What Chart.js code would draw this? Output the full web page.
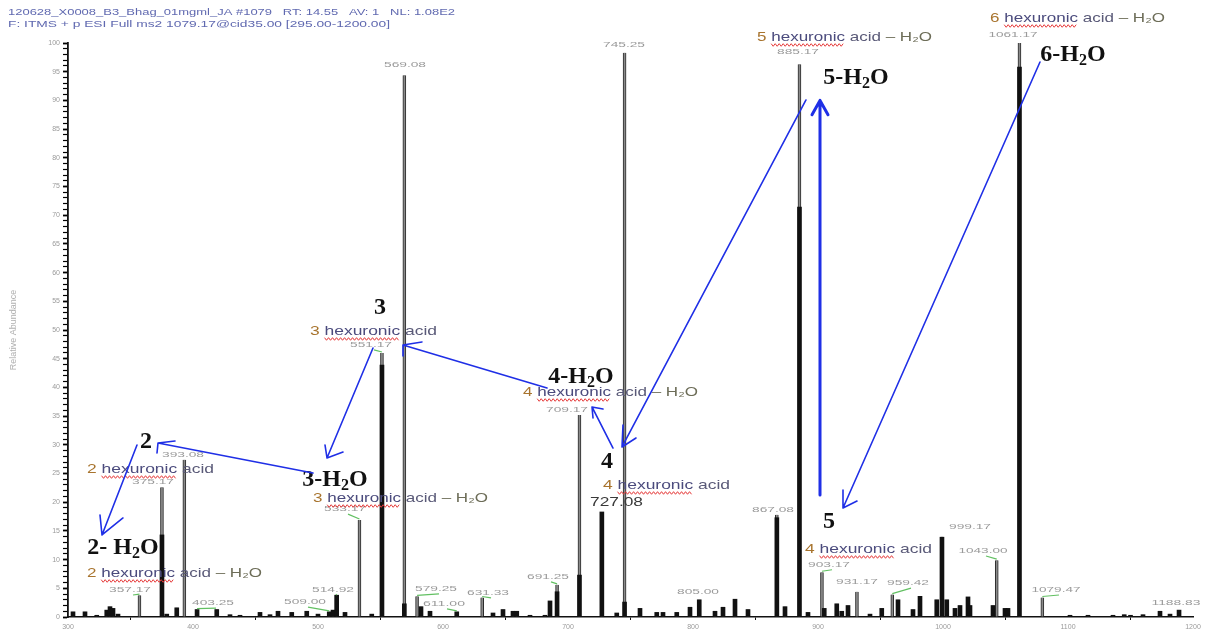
<!DOCTYPE html>
<html>
<head>
<meta charset="utf-8">
<title>MS2 1079.17</title>
<script src="https://cdn.jsdelivr.net/npm/chart.js@4.4.1/dist/chart.umd.min.js"></script>
<style>
  html, body { margin: 0; padding: 0; background: #fff; }
  #wrap { width: 1209px; height: 634px; }
</style>
</head>
<body>
<div id="wrap"><canvas id="spectrum" width="1209" height="634"></canvas></div>
<script>
// stick spectrum: m/z, relative abundance at the tip, and height of the dark centroid part
const mzValues = [
  304, 313.6, 323, 331, 333.6, 336, 340, 357.17, 375.17, 379, 387, 393.08, 403.25, 419,
  429.6, 437.6, 453.6, 461.6, 468, 479, 491, 500, 509.00, 512, 514.92, 521.6, 533.17, 543,
  551.17, 569.08, 579.25, 582.4, 589.6, 611.00, 631.33, 640, 648, 656, 659, 669.6, 681.6,
  685.6, 691.25, 709.17, 727.08, 739, 745.25, 757.6, 771, 776, 787, 797.6, 805.00, 817.6,
  824, 833.6, 844, 867.08, 873.6, 885.17, 892, 903.17, 905, 915, 919, 924, 931.17, 941.6,
  951, 959.42, 964, 976, 981.6, 995, 999.17, 1003, 1009.6, 1013.6, 1020, 1021.6, 1040,
  1043.00, 1049.6, 1052, 1061.17, 1079.47, 1101.6, 1116, 1136, 1145, 1150, 1160, 1173.6,
  1181.6, 1188.83
];
const abundance = [
  0.9, 0.9, 0.3, 1.2, 1.8, 1.5, 0.5, 3.8, 22.6, 0.5, 1.6, 27.4, 1.3, 1.3,
  0.4, 0.3, 0.8, 0.4, 1.0, 0.8, 1.0, 0.5, 0.9, 1.2, 3.8, 0.8, 16.9, 0.5,
  46.0, 94.4, 3.6, 1.8, 1.0, 0.9, 3.4, 0.7, 1.3, 1.0, 1.0, 0.3, 0.3,
  2.8, 5.6, 35.2, 18.3, 0.7, 98.3, 1.5, 0.8, 0.8, 0.8, 1.7, 3.0, 1.0,
  1.7, 3.1, 1.3, 17.8, 1.8, 96.3, 0.8, 7.8, 1.5, 2.3, 1.0, 2.0, 4.4, 0.5,
  1.5, 3.9, 3.0, 1.3, 3.6, 3.0, 14.0, 3.0, 1.5, 2.0, 3.5, 2.0, 2.0,
  9.9, 1.5, 1.5, 100, 3.4, 0.3, 0.3, 0.3, 0.4, 0.3, 0.4, 1.0,
  0.5, 1.2
];
const centroid = [
  0.9, 0.9, 0.3, 1.2, 1.8, 1.5, 0.5, 0, 14.3, 0.5, 1.6, 0, 1.3, 1.3,
  0.4, 0.3, 0.8, 0.4, 1.0, 0.8, 1.0, 0.5, 0.9, 1.2, 3.8, 0.8, 0, 0.5,
  43.9, 2.3, 0, 1.8, 1.0, 0.9, 0, 0.7, 1.3, 1.0, 1.0, 0.3, 0.3,
  2.8, 4.4, 7.3, 18.3, 0.7, 2.6, 1.5, 0.8, 0.8, 0.8, 1.7, 3.0, 1.0,
  1.7, 3.1, 1.3, 17.3, 1.8, 71.4, 0.8, 0, 1.5, 2.3, 1.0, 2.0, 0, 0.5,
  1.5, 0, 3.0, 1.3, 3.6, 3.0, 13.9, 3.0, 1.5, 2.0, 3.5, 2.0, 2.0,
  0, 1.5, 1.5, 95.8, 0, 0.3, 0.3, 0.3, 0.4, 0.3, 0.4, 1.0,
  0.5, 1.2
];

const xTicks = [300, 400, 500, 600, 700, 800, 900, 1000, 1100, 1200];
const yTicks = [0, 5, 10, 15, 20, 25, 30, 35, 40, 45, 50, 55, 60, 65, 70, 75, 80, 85, 90, 95, 100];

// peak labels: text, label centre m/z, label height %, leader line to the peak
const peakTags = [
  ['357.17', 349.6, 4.7, true], ['375.17', 368, 23.5, false], ['393.08', 392, 28.2, false],
  ['403.25', 416, 2.4, true], ['509.00', 489.6, 2.6, true], ['514.92', 512, 4.7, true],
  ['533.17', 521.6, 18.8, true], ['551.17', 542.4, 47.4, true], ['569.08', 569.6, 96.2, false],
  ['579.25', 594.4, 4.9, true], ['611.00', 600.8, 2.3, true], ['631.33', 636, 4.2, true],
  ['691.25', 684, 7.0, true], ['709.17', 699.2, 36.1, false], ['745.25', 744.8, 99.7, false],
  ['805.00', 804, 4.4, false], ['867.08', 864, 18.6, false], ['885.17', 884, 98.4, false],
  ['903.17', 908.8, 9.1, true], ['931.17', 931.2, 6.1, false], ['959.42', 972, 5.9, true],
  ['999.17', 1021.6, 15.7, false], ['1043.00', 1032, 11.5, true], ['1061.17', 1056, 101.4, false],
  ['1079.47', 1090.4, 4.7, true], ['1188.83', 1186.4, 2.4, false]
];
const bigTag = ['727.08', 738.4, 19.9];

// fragment names: residues, minus water, left edge m/z, centre %
const fragTags = [
  [2, false, 315.2, 25.78], [2, true, 315.2, 7.67], [3, false, 493.6, 49.83],
  [3, true, 496, 20.73], [4, true, 664, 39.2], [4, false, 728, 23.0],
  [4, false, 889.6, 11.85], [5, true, 851.2, 101.05], [6, true, 1037.6, 104.36]
];

// short ion names: prefix, followed by H2O, centre m/z, centre %
const ionTags = [
  ['2', false, 362.4, 30.49], ['2- ', true, 344, 12.02], ['3', false, 549.6, 53.83],
  ['3-', true, 513.6, 23.87], ['4-', true, 710.4, 41.81], ['4', false, 731.2, 27.0],
  ['5', false, 908.8, 16.55], ['5-', true, 930.4, 93.9], ['6-', true, 1104, 97.91]
];

// hand-drawn arrows: tail, tip, two barbs, each [m/z, %], then pen width
const arrows = [
  [[355.2, 29.97], [327.2, 14.29], [325.6, 17.77], [344, 17.25], 1.6],
  [[496, 25.09], [372, 30.31], [385.6, 30.66], [371.2, 28.57], 1.6],
  [[544, 46.86], [507.2, 27.70], [505.6, 29.97], [520, 28.75], 1.6],
  [[683.2, 39.90], [568, 47.39], [583.2, 47.91], [568, 45.47], 1.6],
  [[736, 29.44], [719.2, 36.59], [728, 36.24], [720, 34.67], 1.6],
  [[890.4, 90.07], [743.2, 29.62], [754.4, 31.18], [744, 33.45], 1.6],
  [[901.6, 21.25], [901.6, 90.0], [895.2, 87.5], [908, 87.5], 3],
  [[1077.6, 96.69], [920, 18.99], [920, 22.13], [931.2, 20.21], 1.6]
];

const headerLines = [
  '120628_X0008_B3_Bhag_01mgml_JA #1079   RT: 14.55   AV: 1   NL: 1.08E2',
  'F: ITMS + p ESI Full ms2 1079.17@cid35.00 [295.00-1200.00]'
];

const sticks = mzValues.map((m, i) => ({ x: m, y: abundance[i] }));
const cores = mzValues.map((m, i) => ({ x: m, y: centroid[i] })).filter(p => p.y > 0);

function fitText(ctx, parts, x, y, width, font) {
  ctx.font = font;
  const widths = parts.map(p => ctx.measureText(p[0]).width);
  const total = widths.reduce((a, b) => a + b, 0);
  const k = width / total;
  ctx.save();
  ctx.translate(x, y);
  ctx.scale(k, 1);
  ctx.textBaseline = 'middle';
  ctx.textAlign = 'left';
  let off = 0;
  parts.forEach((p, i) => {
    ctx.fillStyle = p[1];
    ctx.fillText(p[0], off, 0);
    off += widths[i];
  });
  ctx.restore();
  return { k, widths };
}

function squiggle(ctx, x0, x1, y) {
  ctx.beginPath();
  let i = 0;
  for (let x = x0; x <= x1; x += 2, i++) {
    const yy = y + (i % 2 ? 1.3 : -1.3);
    if (i === 0) ctx.moveTo(x, yy); else ctx.lineTo(x, yy);
  }
  ctx.strokeStyle = '#e53a3a';
  ctx.lineWidth = 1;
  ctx.stroke();
}

const notes = {
  id: 'notes',
  afterDraw(chart) {
    const ctx = chart.ctx;
    const X = v => chart.scales.x.getPixelForValue(v);
    const Y = v => chart.scales.y.getPixelForValue(v);
    ctx.save();

    // peak m/z labels with green leaders
    peakTags.forEach(([text, lm, lp, lead]) => {
      const idx = mzValues.indexOf(parseFloat(text));
      const lx = X(lm), ly = Y(lp);
      fitText(ctx, [[text, '#9a9a9a']], lx - text.length * 3.5, ly, text.length * 7, '8px "Liberation Sans"');
      if (lead && idx >= 0) {
        ctx.beginPath();
        ctx.moveTo(X(mzValues[idx]), Y(abundance[idx]) - 1);
        ctx.lineTo(lx + 3, ly + 5);
        ctx.strokeStyle = '#62c062';
        ctx.lineWidth = 1.2;
        ctx.stroke();
      }
    });
    fitText(ctx, [[bigTag[0], '#3a3a3a']], X(bigTag[1]) - 26, Y(bigTag[2]), 53, '13px "Liberation Sans"');

    // fragment names with the spell-check underline
    fragTags.forEach(([n, water, lm, lp]) => {
      const parts = [[String(n), '#a8742e'], [' hexuronic', '#4b4b7d'], [' acid', '#5a5a78']];
      if (water) parts.push([' \u2013 H\u2082O', '#6d6d58']);
      const x = X(lm), y = Y(lp);
      const r = fitText(ctx, parts, x, y, water ? 175 : 127, '13px "Liberation Sans"');
      ctx.font = '13px "Liberation Sans"';
      const sp = ctx.measureText(' ').width;
      squiggle(ctx, x + (r.widths[0] + sp) * r.k, x + (r.widths[0] + r.widths[1]) * r.k, y + 8);
    });

    // ion names
    ionTags.forEach(([pre, water, cm, cp]) => {
      const big = 'bold 24px "Liberation Serif"', sub = 'bold 16px "Liberation Serif"';
      ctx.font = big;
      const wPre = ctx.measureText(pre).width;
      const wH = water ? ctx.measureText('H').width : 0;
      const wO = water ? ctx.measureText('O').width : 0;
      ctx.font = sub;
      const w2 = water ? ctx.measureText('2').width : 0;
      let x = X(cm) - (wPre + wH + w2 + wO) / 2;
      const y = Y(cp);
      ctx.fillStyle = '#111';
      ctx.textBaseline = 'middle';
      ctx.textAlign = 'left';
      ctx.font = big;
      ctx.fillText(pre, x, y);
      if (water) {
        x += wPre;
        ctx.fillText('H', x, y);
        x += wH;
        ctx.font = sub;
        ctx.fillText('2', x, y + 6);
        x += w2;
        ctx.font = big;
        ctx.fillText('O', x, y);
      }
    });

    // blue arrows
    ctx.strokeStyle = '#1f2fe6';
    ctx.lineCap = 'round';
    ctx.lineJoin = 'round';
    arrows.forEach(([tail, tip, b1, b2, w]) => {
      ctx.lineWidth = w;
      ctx.beginPath();
      ctx.moveTo(X(tail[0]), Y(tail[1]));
      ctx.lineTo(X(tip[0]), Y(tip[1]));
      ctx.moveTo(X(b1[0]), Y(b1[1]));
      ctx.lineTo(X(tip[0]), Y(tip[1]));
      ctx.lineTo(X(b2[0]), Y(b2[1]));
      ctx.stroke();
    });

    // scan header
    fitText(ctx, [[headerLines[0], '#6069b0']], 8, 13, 447, '9px "Liberation Sans"');
    fitText(ctx, [[headerLines[1], '#6069b0']], 8, 25, 382, '9px "Liberation Sans"');
    ctx.restore();
  }
};

new Chart(document.getElementById('spectrum'), {
  type: 'bar',
  data: {
    datasets: [
      {
        label: 'centroid',
        data: cores,
        backgroundColor: '#111',
        barThickness: 4,
        grouped: false
      },
      {
        label: 'profile',
        data: sticks,
        backgroundColor: '#8a8a8a',
        borderColor: '#2a2a2a',
        borderWidth: { left: 1, right: 1, top: 0, bottom: 0 },
        borderSkipped: false,
        barThickness: 3,
        grouped: false
      }
    ]
  },
  options: {
    responsive: false,
    animation: false,
    layout: { padding: { left: 0, top: 43, right: 16, bottom: 0 } },
    plugins: { legend: { display: false }, tooltip: { enabled: false } },
    scales: {
      x: {
        type: 'linear',
        min: 300,
        max: 1200,
        offset: false,
        afterFit(s) { s.height = 17; },
        afterBuildTicks(s) { s.ticks = xTicks.map(v => ({ value: v })); },
        ticks: {
          autoSkip: false,
          maxRotation: 0,
          padding: 3,
          color: '#9a9a9a',
          font: { family: 'Liberation Sans', size: 7 },
          callback: v => String(v)
        },
        grid: { drawOnChartArea: false, tickLength: 3, tickColor: '#111' },
        border: { color: '#111', width: 1.5 }
      },
      y: {
        min: 0,
        max: 100,
        afterFit(s) { s.width = 68; },
        ticks: {
          stepSize: 1,
          autoSkip: false,
          padding: 3,
          color: '#9a9a9a',
          font: { family: 'Liberation Sans', size: 7 },
          callback: v => (yTicks.includes(v) ? String(v) : '')
        },
        grid: {
          drawOnChartArea: false,
          tickLength: 5,
          tickColor: '#000',
          tickWidth: c => (c.tick && c.tick.value % 5 === 0 ? 1.8 : 1.2)
        },
        border: { color: '#111', width: 1.8 },
        title: {
          display: true,
          text: 'Relative Abundance',
          color: '#b0b0b0',
          padding: { top: 8, bottom: 0 },
          font: { family: 'Liberation Sans', size: 9 }
        }
      }
    }
  },
  plugins: [notes]
});
</script>
</body>
</html>
